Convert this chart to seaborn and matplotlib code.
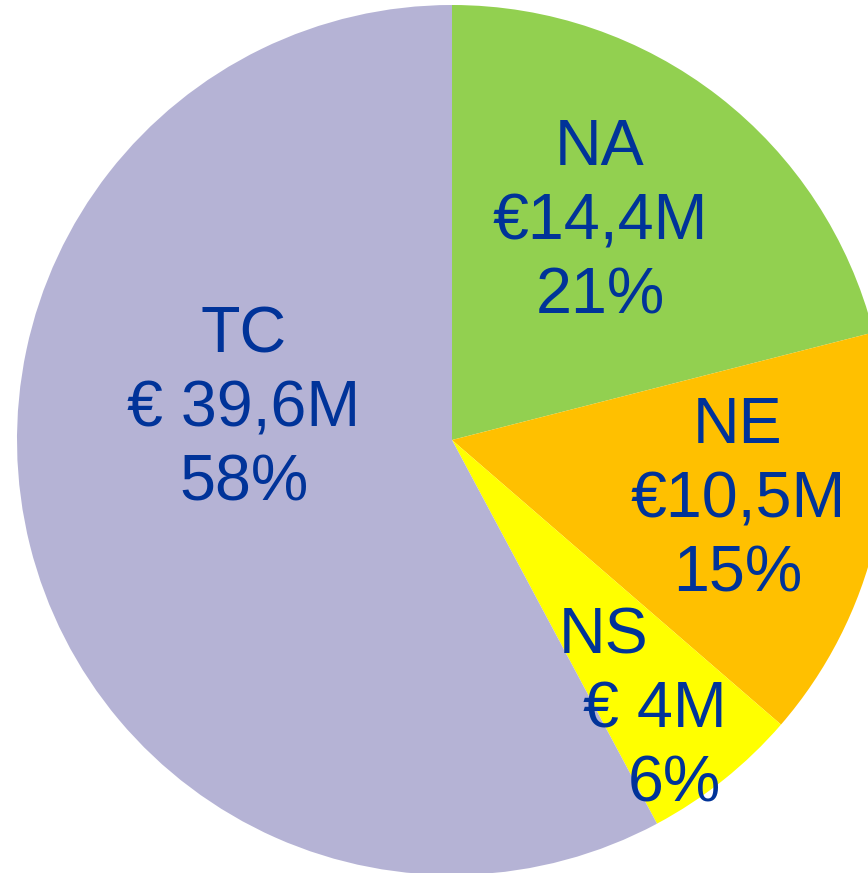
import matplotlib
matplotlib.use('agg')
import matplotlib.pyplot as plt
import seaborn as sns

# data
regions = ['NA', 'NE', 'NS', 'TC']
amounts = [14.4, 10.5, 4.0, 39.6]          # million euro
amount_labels = ['€14,4M', '€10,5M', '€ 4M', '€ 39,6M']
pct_labels = ['21%', '15%', '6%', '58%']

sns.set_theme(style='white')
plt.rcParams['font.family'] = ['Liberation Sans', 'DejaVu Sans']

colors = ['#92D050', '#FFC000', '#FFFF00', '#B5B3D5']
text_color = '#003399'

W, H, dpi = 868, 873, 100
cx, cy, r = 452, 440, 435   # pie centre / radius in pixels

fig = plt.figure(figsize=(W / dpi, H / dpi), dpi=dpi)
ax = fig.add_axes([0, 0, 1, 1])
ax.pie(amounts, colors=colors, startangle=90, counterclock=False,
       radius=1, wedgeprops=dict(linewidth=0))
ax.set_aspect('auto')
ax.set_xlim(-cx / r, (W - cx) / r)
ax.set_ylim(-(H - cy) / r, cy / r)
ax.axis('off')

# label anchors: centre x and first baseline (pixels), per-line x shifts
anchors = {'NA': (600, 165, [0, 0, 0]),
           'NE': (738, 443, [0, 0, 0]),
           'NS': (604, 653, [0, 51, 70]),
           'TC': (244, 352, [0, 0, 0])}
gap = 74

for name, amt, pct in zip(regions, amount_labels, pct_labels):
    x0, y0, shifts = anchors[name]
    for i, line in enumerate([name, amt, pct]):
        px = x0 + shifts[i]
        py = y0 + i * gap
        ax.text((px - cx) / r, (cy - py) / r, line, ha='center', va='baseline',
                fontsize=46.5, color=text_color)

plt.savefig('out.png', dpi=dpi)
